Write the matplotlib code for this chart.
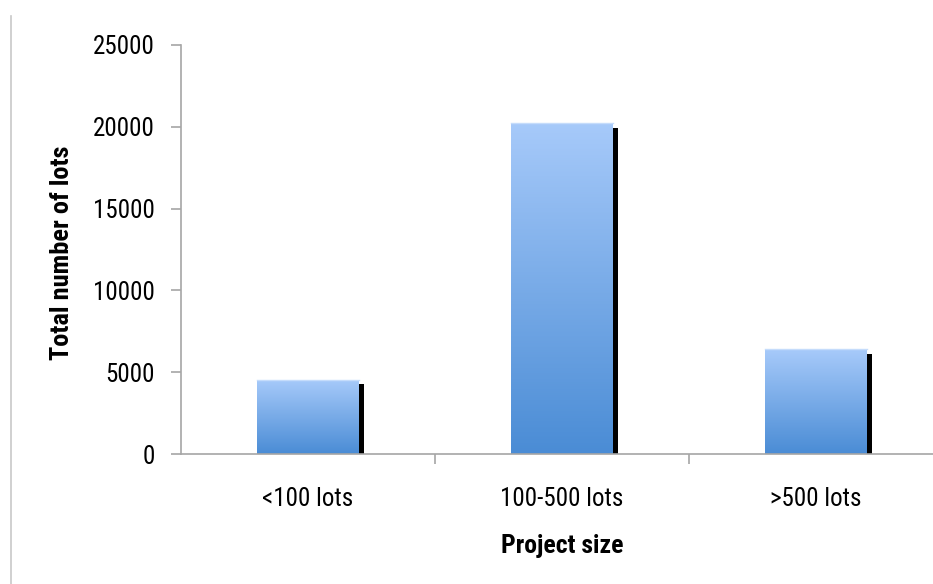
import numpy as np
import matplotlib
matplotlib.use("Agg")
import matplotlib.pyplot as plt
from matplotlib.colors import LinearSegmentedColormap
from matplotlib.patches import Rectangle

categories = ["<100 lots", "100-500 lots", ">500 lots"]
lots = [4550, 20250, 6400]
y_ticks = [0, 5000, 10000, 15000, 20000, 25000]

plt.rcParams["font.family"] = ["Roboto Condensed", "Liberation Sans", "DejaVu Sans"]

fig = plt.figure(figsize=(9.33, 5.84), dpi=100)
# axis runs past the right edge of the picture, as in the original
ax = fig.add_axes([181 / 933, 1 - 454 / 584, 762 / 933, 409 / 584])

grad = LinearSegmentedColormap.from_list("bar", ["#4a8cd5", "#a7cafa"])
bar_w = 0.4
x = np.arange(len(categories))

for xi, val in zip(x, lots):
    # shadow behind the bar
    ax.bar(xi + 0.022, val - 300, width=bar_w, color="black", zorder=1)
    left = xi - bar_w / 2
    rect = Rectangle((left, 0), bar_w, val, facecolor="none", edgecolor="none", zorder=2)
    ax.add_patch(rect)
    im = ax.imshow(np.linspace(0, 1, 256).reshape(-1, 1), cmap=grad, aspect="auto",
                   origin="lower", extent=[left, left + bar_w, 0, val], zorder=2)
    im.set_clip_path(rect)
    ax.plot([left, left + bar_w], [val, val], color="#c5dcfb", lw=1, zorder=3)

ax.set_xlim(-0.5, 2.5)
ax.set_ylim(0, 25000)
ax.set_yticks(y_ticks)
ax.set_yticklabels([str(t) for t in y_ticks])
ax.set_xticks(x)
ax.set_xticklabels(categories)
ax.set_xticks([0.5, 1.5], minor=True)

for s in ["top", "right"]:
    ax.spines[s].set_visible(False)
for s in ["left", "bottom"]:
    ax.spines[s].set_color("#a6a6a6")
    ax.spines[s].set_linewidth(1.2)

ax.tick_params(axis="y", direction="out", length=7, width=1.2, color="#a6a6a6",
               labelsize=18, pad=12)
ax.tick_params(axis="x", which="major", length=0, labelsize=18, pad=24)
ax.tick_params(axis="x", which="minor", direction="out", length=7, width=1.2, color="#a6a6a6")

ax.set_xlabel("Project size", fontsize=18.5, fontweight="bold", labelpad=16)
fig.text(62 / 933, 1 - 253 / 584, "Total number of lots", rotation=90, fontsize=19,
         fontweight="bold", ha="center", va="center")

# thin gray border on the left
fig.add_artist(plt.Line2D([11 / 933, 11 / 933], [0, 1 - 16 / 584], color="#c8c8c8", lw=1.2))

fig.savefig("out.png", dpi=100)
